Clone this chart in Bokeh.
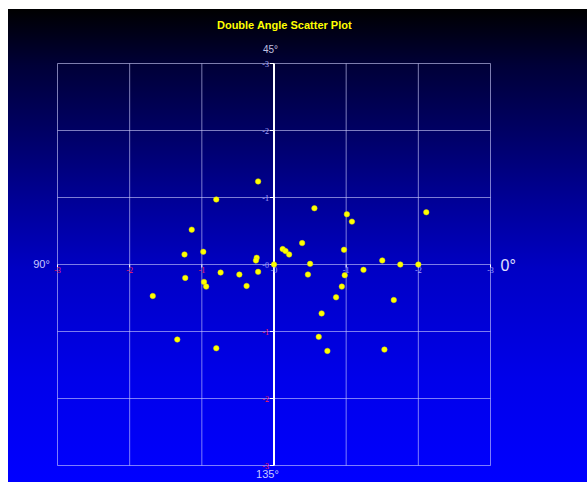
from bokeh.plotting import figure
from bokeh.models import ColumnDataSource, LabelSet, Label, Range1d
from bokeh.embed import file_html
from bokeh.resources import INLINE
import math

title_text = "Double Angle Scatter Plot"

# scatter values
xs = [-0.22, -0.80, -1.14, -1.24, -0.98, -0.24, -0.25, 0.00, 0.12, 0.16, 0.21,
      -0.74, -0.48, -0.22, -1.23, -0.97, -0.94, -0.38, -1.68, -1.34, -0.80,
      0.56, 1.01, 1.08, 2.11, 0.39, 0.97, 0.50, 1.50, 1.75, 2.00,
      0.47, 1.24, 0.98, 0.94, 0.86, 1.66, 0.66, 0.62, 0.74, 1.53]
ys = [1.24, 0.97, 0.52, 0.15, 0.19, 0.10, 0.06, 0.00, 0.23, 0.20, 0.15,
      -0.12, -0.15, -0.11, -0.20, -0.26, -0.33, -0.32, -0.47, -1.12, -1.25,
      0.84, 0.75, 0.64, 0.78, 0.32, 0.22, 0.01, 0.06, 0.00, 0.00,
      -0.15, -0.08, -0.16, -0.33, -0.49, -0.53, -0.73, -1.08, -1.29, -1.27]

ticks = [-3, -2, -1, 0, 1, 2, 3]
tick_labels = ["-3", "-2", "-1", "-0", "-1", "-2", "-3"]
angle_labels = ["0°", "45°", "90°", "135°"]

POS_COLOR = "#a8a8ff"
NEG_COLOR = "#ff2050"
GRID_COLOR = "#d0d0ff"
FONT = "Liberation Sans"

W, H = 587, 482
# plot box (pixels) that holds the -3..3 square
L, R, T, B = 57, 490, 63, 465
ux = (R - L) / 6.0
uy = (B - T) / 6.0
cx = (L + R) / 2.0
cy = (T + B) / 2.0
x_range = Range1d((0 - cx) / ux, (W - cx) / ux)
y_range = Range1d((cy - H) / uy, (cy - 0) / uy)

p = figure(width=W, height=H, x_range=x_range, y_range=y_range,
           output_backend="svg", toolbar_location=None,
           x_axis_type=None, y_axis_type=None,
           min_border=0, min_border_left=0, min_border_right=0,
           min_border_top=0, min_border_bottom=0)
p.border_fill_alpha = 0
p.background_fill_alpha = 0
p.outline_line_color = None
p.styles = {
    "background": "linear-gradient(to bottom, #000000 0%, #000038 12%, #000068 27%, #000098 41%, #0000c4 55%, #0000ea 78%, #0000ff 100%) 8px 9px / 579px 473px no-repeat, #ffffff"
}

lo, hi = min(ticks), max(ticks)
n = len(ticks)
# grid lines limited to the -3..3 square
p.segment(x0=ticks, y0=[lo] * n, x1=ticks, y1=[hi] * n, line_color=GRID_COLOR, line_alpha=0.6, line_width=1)
p.segment(x0=[lo] * n, y0=ticks, x1=[hi] * n, y1=ticks, line_color=GRID_COLOR, line_alpha=0.6, line_width=1)

# vertical axis line
p.segment(x0=[0], y0=[lo], x1=[0], y1=[hi], line_color="white", line_width=2)
p.ray(x=[0] * n, y=ticks, length=4, angle=math.pi, length_units="screen",
      line_color="white", line_width=1)
p.ray(x=ticks, y=[0] * n, length=3, angle=-math.pi / 2, length_units="screen",
      line_color="white", line_width=1)

p.scatter(xs, ys, size=5.5, fill_color="#ffff00", line_color="#d8d800", line_width=0.5)

colors = [NEG_COLOR if t < 0 else POS_COLOR for t in ticks]
ysrc = ColumnDataSource(dict(x=[0] * n, y=ticks, t=tick_labels, c=colors))
xsrc = ColumnDataSource(dict(x=ticks, y=[0] * n, t=tick_labels, c=colors))
p.add_layout(LabelSet(x="x", y="y", text="t", source=ysrc, x_offset=-5, text_align="right",
                      text_baseline="middle", text_font_size="8px", text_color="c", text_font=FONT))
p.add_layout(LabelSet(x="x", y="y", text="t", source=xsrc, y_offset=-2, text_align="center",
                      text_baseline="top", text_font_size="8px", text_color="c", text_font=FONT))

def px2x(px):
    return (px - cx) / ux

def py2y(py):
    return (cy - py) / uy

p.add_layout(Label(x=px2x(500), y=py2y(265), text=angle_labels[0], text_align="left", text_baseline="middle",
                   text_font_size="16px", text_color="#e0e0ff", text_font=FONT))
p.add_layout(Label(x=px2x(270), y=py2y(49), text=angle_labels[1], text_align="center", text_baseline="middle",
                   text_font_size="10px", text_color="#c0c0e0", text_font=FONT))
p.add_layout(Label(x=px2x(41), y=py2y(263), text=angle_labels[2], text_align="center", text_baseline="middle",
                   text_font_size="11px", text_color="#c8c8ff", text_font=FONT))
p.add_layout(Label(x=px2x(267), y=py2y(473), text=angle_labels[3], text_align="center", text_baseline="middle",
                   text_font_size="11px", text_color="#c8c8ff", text_font=FONT))
p.add_layout(Label(x=px2x(284), y=py2y(24), text=title_text, text_align="center", text_baseline="middle",
                   text_font_size="11px", text_font_style="bold", text_color="#ffff00", text_font=FONT))

open("out.html", "w").write(file_html(p, INLINE))
